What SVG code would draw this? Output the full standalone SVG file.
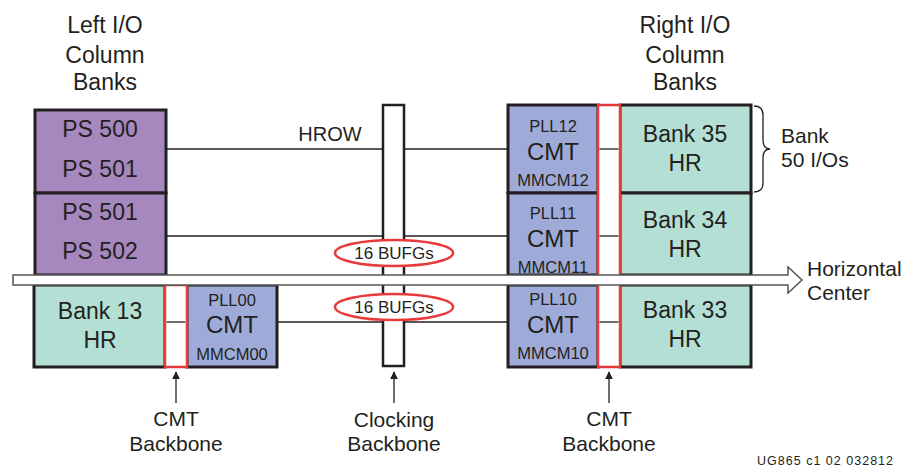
<svg xmlns="http://www.w3.org/2000/svg" width="903" height="468" viewBox="0 0 903 468">
<defs>
<style>
text{font-family:"Liberation Sans",Arial,sans-serif;fill:#231f20}
.c{text-anchor:middle}
.blk{stroke:#231f20;stroke-width:3}
.ps{fill:#a688be}
.gr{fill:#b4dfd4}
.bl{fill:#9eabd8}
.red{fill:#fff;stroke:#e8393b;stroke-width:2.5}
.ln{stroke:#231f20;stroke-width:1.3;fill:none}
.big{font-size:23px}
.cmt{font-size:24px}
.sm{font-size:16.5px}
.lab{font-size:21px}
</style>
<marker id="ah" viewBox="0 0 10 10" refX="9" refY="5" markerWidth="8" markerHeight="10" markerUnits="userSpaceOnUse" orient="auto">
<path d="M0,0 L10,5 L0,10 z" fill="#231f20"/>
</marker>
</defs>

<g id="headers">
<text class="c big" x="105" y="33">Left I/O</text>
<text class="c big" x="105" y="63">Column</text>
<text class="c big" x="105" y="90">Banks</text>
<text class="c big" x="685" y="33">Right I/O</text>
<text class="c big" x="685" y="63">Column</text>
<text class="c big" x="685" y="90">Banks</text>
</g>

<g id="connectors">
<line class="ln" x1="166" y1="149" x2="383" y2="149"/>
<line class="ln" x1="404" y1="149" x2="508" y2="149"/>
<line class="ln" x1="166" y1="236" x2="383" y2="236"/>
<line class="ln" x1="404" y1="236" x2="508" y2="236"/>
<line class="ln" x1="277" y1="322" x2="383" y2="322"/>
<line class="ln" x1="404" y1="322" x2="508" y2="322"/>
<line class="ln" x1="176" y1="403" x2="176" y2="372" marker-end="url(#ah)"/>
<line class="ln" x1="394" y1="403" x2="394" y2="372" marker-end="url(#ah)"/>
<line class="ln" x1="609" y1="403" x2="609" y2="372" marker-end="url(#ah)"/>
</g>

<g id="ps500-501">
<rect class="ps blk" x="35" y="110" width="131" height="83"/>
<text class="c big" x="100" y="137">PS 500</text>
<text class="c big" x="100" y="177">PS 501</text>
</g>
<g id="ps501-502">
<rect class="ps blk" x="35" y="193" width="131" height="82"/>
<text class="c big" x="100" y="220">PS 501</text>
<text class="c big" x="100" y="259">PS 502</text>
</g>

<g id="bank13">
<rect class="gr blk" x="34" y="285" width="131" height="82"/>
<text class="c big" x="100" y="319">Bank 13</text>
<text class="c big" x="100" y="348">HR</text>
</g>
<g id="cmt00">
<rect class="bl blk" x="187" y="285" width="90" height="82"/>
<text class="c sm" x="232" y="306">PLL00</text>
<text class="c cmt" x="232" y="333">CMT</text>
<text class="c sm" x="232" y="360">MMCM00</text>
</g>
<g id="cmt-backbone-left">
<rect class="red" x="165" y="285" width="22" height="82"/>
<line class="ln" x1="166.5" y1="322" x2="185.5" y2="322"/>
</g>

<g id="clocking-backbone">
<rect x="383" y="105" width="21" height="261" fill="#fff" stroke="#231f20" stroke-width="2.5"/>
</g>
<g id="hrow-label">
<text class="c" x="330" y="141" style="font-size:20px">HROW</text>
</g>
<g id="bufg-top">
<ellipse class="red" cx="394" cy="253" rx="59" ry="13"/>
<text class="c" x="394" y="259" style="font-size:17px">16 BUFGs</text>
</g>
<g id="bufg-bottom">
<ellipse class="red" cx="394" cy="307" rx="59" ry="13"/>
<text class="c" x="394" y="313" style="font-size:17px">16 BUFGs</text>
</g>

<g id="cmt12">
<rect class="bl blk" x="508" y="105" width="90" height="88"/>
<text class="c sm" x="553" y="132">PLL12</text>
<text class="c cmt" x="553" y="160">CMT</text>
<text class="c sm" x="553" y="186">MMCM12</text>
</g>
<g id="cmt11">
<rect class="bl blk" x="508" y="193" width="90" height="82"/>
<text class="c sm" x="553" y="219">PLL11</text>
<text class="c cmt" x="553" y="247">CMT</text>
<text class="c sm" x="553" y="273">MMCM11</text>
</g>
<g id="cmt10">
<rect class="bl blk" x="508" y="285" width="90" height="82"/>
<text class="c sm" x="553" y="305">PLL10</text>
<text class="c cmt" x="553" y="333">CMT</text>
<text class="c sm" x="553" y="359">MMCM10</text>
</g>
<g id="bank35">
<rect class="gr blk" x="620" y="105" width="131" height="88"/>
<text class="c big" x="685" y="142">Bank 35</text>
<text class="c big" x="685" y="171">HR</text>
</g>
<g id="bank34">
<rect class="gr blk" x="620" y="193" width="131" height="82"/>
<text class="c big" x="685" y="228">Bank 34</text>
<text class="c big" x="685" y="257">HR</text>
</g>
<g id="bank33">
<rect class="gr blk" x="620" y="285" width="131" height="82"/>
<text class="c big" x="685" y="318">Bank 33</text>
<text class="c big" x="685" y="347">HR</text>
</g>
<g id="cmt-backbone-right">
<rect class="red" x="598" y="105" width="22" height="262"/>
<line class="ln" x1="599.5" y1="149" x2="618.5" y2="149"/>
<line class="ln" x1="599.5" y1="236" x2="618.5" y2="236"/>
<line class="ln" x1="599.5" y1="322" x2="618.5" y2="322"/>
</g>

<g id="horizontal-center">
<path d="M13,275 H788 V267 L802,280 L788,293 V285 H13 Z" fill="#fff" stroke="#555" stroke-width="1.5"/>
<text class="lab" x="807" y="276">Horizontal</text>
<text class="lab" x="807" y="300">Center</text>
</g>

<g id="bank-brace">
<path class="ln" d="M754,106 Q763,106 763,115 V140 Q763,149 770,149 Q763,149 763,158 V183 Q763,192 754,192"/>
<text class="lab" x="781" y="143">Bank</text>
<text class="lab" x="781" y="167">50 I/Os</text>
</g>

<g id="backbone-labels">
<text class="c lab" x="176" y="426">CMT</text>
<text class="c lab" x="176" y="451">Backbone</text>
<text class="c lab" x="394" y="427">Clocking</text>
<text class="c lab" x="394" y="451">Backbone</text>
<text class="c lab" x="609" y="426">CMT</text>
<text class="c lab" x="609" y="451">Backbone</text>
</g>

<text x="757" y="465" style="font-size:12.5px" textLength="136" lengthAdjust="spacing">UG865 c1 02 032812</text>
</svg>
